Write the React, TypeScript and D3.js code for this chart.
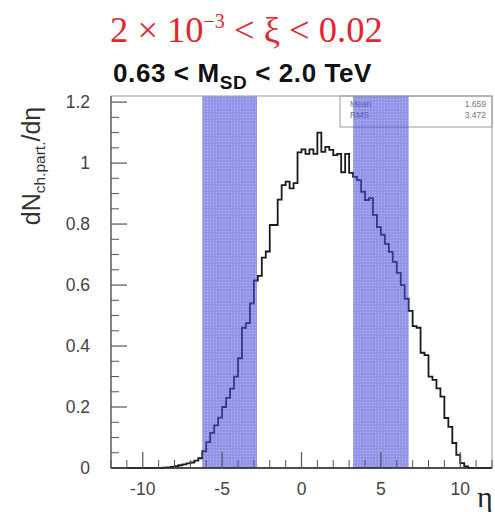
import React from "react";
import * as d3 from "d3";

// ---- data ----
const binWidth = 0.25;
const firstBinLow = -9.0;
const dNdEta: number[] = [
  0.000, 0.001, 0.002, 0.004, 0.006, 0.009, 0.012, 0.015, // -9.00 .. -7.25
  0.018, 0.024, 0.032, 0.055, 0.085, 0.115, 0.140, 0.165, // -7.00 .. -5.25
  0.200, 0.230, 0.260, 0.300, 0.360, 0.460, 0.475, 0.540, // -5.00 .. -3.25
  0.615, 0.630, 0.690, 0.710, 0.797, 0.797, 0.880, 0.928, // -3.00 .. -1.25
  0.939, 0.917, 0.934, 1.035, 1.045, 1.030, 1.045, 1.030, // -1.00 .. 0.75
  1.100, 1.037, 1.053, 1.043, 1.026, 1.030, 0.970, 1.030, // 1.00 .. 2.75
  0.968, 0.955, 0.944, 0.906, 0.879, 0.885, 0.830, 0.790, // 3.00 .. 4.75
  0.765, 0.735, 0.709, 0.676, 0.640, 0.600, 0.555, 0.515, // 5.00 .. 6.75
  0.465, 0.460, 0.378, 0.370, 0.300, 0.289, 0.261, 0.234, // 7.00 .. 8.75
  0.164, 0.135, 0.082, 0.043, 0.016, 0.005, 0.000,        // 9.00 .. 10.50
];
const bands: [number, number][] = [
  [-6.25, -2.8],
  [3.25, 6.75],
];
const xMajorTicks = [-10, -5, 0, 5, 10];
const yMajorTicks = [0, 0.2, 0.4, 0.6, 0.8, 1, 1.2];
const yTickLabels = ["0", "0.2", "0.4", "0.6", "0.8", "1", "1.2"];
const statsLabels = ["Mean", "RMS"];
const statsValues = ["1.659", "3.472"];

const W = 495;
const H = 512;
const plot = { left: 111, right: 492, top: 96, bottom: 468 };

export default function App() {
  const x = d3.scaleLinear().domain([-12, 12]).range([plot.left, plot.right]);
  const y = d3.scaleLinear().domain([0, 1.22]).range([plot.bottom, plot.top]);

  const pts: [number, number][] = [[-12, 0]];
  dNdEta.forEach((v, i) => pts.push([firstBinLow + i * binWidth, v]));
  pts.push([firstBinLow + dNdEta.length * binWidth, 0]);
  pts.push([12, 0]);
  const line = d3
    .line<[number, number]>()
    .x((d) => x(d[0]))
    .y((d) => y(d[1]))
    .curve(d3.curveStepAfter);

  const xMinor = d3.range(-12, 12.001, 1).filter((v) => !xMajorTicks.includes(v));
  const yMinor = d3.range(0, 1.2001, 0.05).filter(
    (v) => !yMajorTicks.some((m) => Math.abs(m - v) < 1e-6)
  );

  const sans = "'Liberation Sans', Arial, Helvetica, sans-serif";
  const serif = "'Liberation Serif', 'Times New Roman', serif";
  const tickColor = "#555";

  return (
    <svg
      width={W}
      height={H}
      style={{ position: "absolute", left: 0, top: 0, background: "#fff" }}
    >
      <defs>
        <pattern id="grid" width="3" height="3" patternUnits="userSpaceOnUse">
          <rect width="3" height="3" fill="rgb(70,70,215)" />
          <rect x="0" y="0" width="1" height="1" fill="rgb(130,130,235)" />
        </pattern>
      </defs>
      {/* titles */}
      <text x={110} y={42} fontFamily={serif} fontSize={36.5} fill="#e3262c">
        2 × 10
        <tspan dy={-14} fontSize={20}>
          −3
        </tspan>
        <tspan dy={14}> &lt; ξ &lt; 0.02</tspan>
      </text>
      <text x={113} y={82} fontFamily={sans} fontWeight="bold" fontSize={26} letterSpacing={0.6} fill="#111">
        0.63 &lt; M
        <tspan dy={7} fontSize={19}>
          SD
        </tspan>
        <tspan dy={-7}> &lt; 2.0 TeV</tspan>
      </text>

      {/* plot background */}
      <rect
        x={plot.left}
        y={plot.top}
        width={plot.right - plot.left}
        height={plot.bottom - plot.top}
        fill="#fff"
      />

      {/* histogram */}
      <path d={line(pts) ?? ""} fill="none" stroke="#1a1a1a" strokeWidth={1.8} />

      {/* stats box */}
      <rect x={340} y={plot.top} width={152} height={31} fill="#fff" stroke="#999" strokeWidth={1} />
      {statsLabels.map((s, i) => (
        <g key={s}>
          <text x={350} y={107 + i * 11} fontFamily={sans} fontSize={8.5} fill="#777">
            {s}
          </text>
          <text x={486} y={107 + i * 11} textAnchor="end" fontFamily={sans} fontSize={8.5} fill="#777">
            {statsValues[i]}
          </text>
        </g>
      ))}

      {/* bands */}
      {bands.map(([a, b], i) => (
        <rect
          key={i}
          x={x(a)}
          y={plot.top}
          width={x(b) - x(a)}
          height={plot.bottom - plot.top}
          fill="url(#grid)"
          opacity={0.58}
        />
      ))}

      {/* frame */}
      <rect
        x={plot.left}
        y={plot.top}
        width={plot.right - plot.left}
        height={plot.bottom - plot.top}
        fill="none"
        stroke="#999"
        strokeWidth={1}
      />
      <line x1={plot.left} x2={plot.right} y1={plot.bottom} y2={plot.bottom} stroke="#222" strokeWidth={1.3} />
      <line x1={plot.left} x2={plot.left} y1={plot.top} y2={plot.bottom} stroke="#555" strokeWidth={1.2} />

      {/* y ticks */}
      {yMajorTicks.map((v, i) => (
        <g key={"ym" + v}>
          <line x1={plot.left} x2={plot.left + 16} y1={y(v)} y2={y(v)} stroke={tickColor} strokeWidth={1.2} />
          <text
            x={90}
            y={y(v) + 6}
            textAnchor="end"
            fontFamily={sans}
            fontSize={17.5}
            fill="#444"
          >
            {yTickLabels[i]}
          </text>
        </g>
      ))}
      {yMinor.map((v) => (
        <line key={"yn" + v} x1={plot.left} x2={plot.left + 8} y1={y(v)} y2={y(v)} stroke={tickColor} strokeWidth={1} />
      ))}

      {/* x ticks */}
      {xMajorTicks.map((v) => (
        <g key={"xm" + v}>
          <line x1={x(v)} x2={x(v)} y1={plot.bottom} y2={plot.bottom - 16} stroke={tickColor} strokeWidth={1.2} />
          <text x={x(v)} y={495} textAnchor="middle" fontFamily={sans} fontSize={17.5} fill="#444">
            {v}
          </text>
        </g>
      ))}
      {xMinor.map((v) => (
        <line key={"xn" + v} x1={x(v)} x2={x(v)} y1={plot.bottom} y2={plot.bottom - 8} stroke={tickColor} strokeWidth={1} />
      ))}

      {/* axis titles */}
      <text x={477} y={507} fontFamily={serif} fontSize={30} fill="#222">
        η
      </text>
      <text
        transform="translate(40,166) rotate(-90)"
        textAnchor="middle"
        fontFamily={sans}
        fontSize={25}
        fill="#333"
      >
        dN
        <tspan dy={5} fontSize={15.5}>
          ch.part.
        </tspan>
        <tspan dy={-5}>/dη</tspan>
      </text>
    </svg>
  );
}
